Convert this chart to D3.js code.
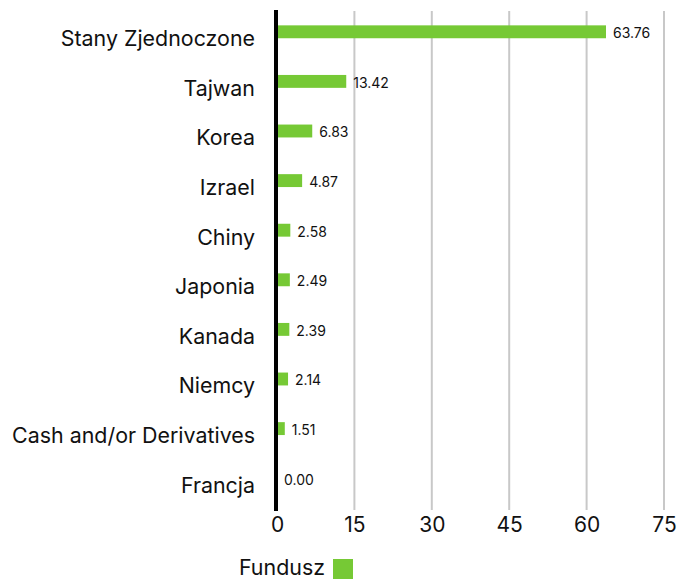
<!DOCTYPE html>
<html><head><meta charset="utf-8">
<script src="https://cdn.jsdelivr.net/npm/d3@7"></script>
<style>body{margin:0;background:#fff}svg{display:block}text{font-family:Inter,"Open Sans",sans-serif}</style>
</head><body><svg id="c" width="678" height="580"></svg>
<script>
const categories = ["Stany Zjednoczone","Tajwan","Korea","Izrael","Chiny","Japonia","Kanada","Niemcy","Cash and/or Derivatives","Francja"];
const values = [63.76,13.42,6.83,4.87,2.58,2.49,2.39,2.14,1.51,0.00];
const xTicks = [0,15,30,45,60,75];
const seriesName = "Fundusz";
const color = "#76c935";

const svg = d3.select("#c");
const x = d3.scaleLinear().domain([0,75]).range([277,664]);
const y = d3.scaleBand().domain(categories).range([7,503]).paddingInner(0.74).paddingOuter(0.37);

// gridlines
svg.append("g").selectAll("line").data(xTicks.filter(d=>d>0)).join("line")
  .attr("x1",d=>x(d)).attr("x2",d=>x(d)).attr("y1",11).attr("y2",510)
  .attr("stroke","#c8c8c8").attr("stroke-width",2);

// x axis labels
const xAxis = d3.axisBottom(x).tickValues(xTicks).tickSize(0).tickPadding(0);
const gx = svg.append("g").attr("transform","translate(0,514)").call(xAxis);
gx.select(".domain").remove();
gx.selectAll("text").attr("font-size",21).attr("fill","#111").attr("dy","0.85em").attr("font-family","Inter,sans-serif");

// bars
svg.append("g").selectAll("rect").data(values).join("rect")
  .attr("x",x(0)).attr("y",(d,i)=>y(categories[i]))
  .attr("width",d=>x(d)-x(0)).attr("height",y.bandwidth()).attr("fill",color);

// value labels
svg.append("g").selectAll("text").data(values).join("text")
  .attr("x",d=>x(d)+7).attr("y",(d,i)=>y(categories[i])+y.bandwidth()/2+1.5)
  .attr("dy","0.35em").attr("font-size",14).attr("fill","#111")
  .text(d=>d.toFixed(2));

// y axis labels
const yAxis = d3.axisLeft(y).tickSize(0).tickPadding(0);
const gy = svg.append("g").attr("transform","translate(255,7.5)").call(yAxis);
gy.select(".domain").remove();
gy.selectAll("text").attr("font-size",21.4).attr("fill","#111").attr("font-family","Inter,sans-serif");

// zero line
svg.append("line").attr("x1",x(0)-1).attr("x2",x(0)-1).attr("y1",10).attr("y2",511)
  .attr("stroke","#000").attr("stroke-width",4);

// legend
const lg = svg.append("g");
lg.append("text").attr("x",325).attr("y",575).attr("text-anchor","end")
  .attr("font-size",21.4).attr("fill","#111").text(seriesName);
lg.append("rect").attr("x",333).attr("y",559).attr("width",20).attr("height",20).attr("fill",color);
</script></body></html>
